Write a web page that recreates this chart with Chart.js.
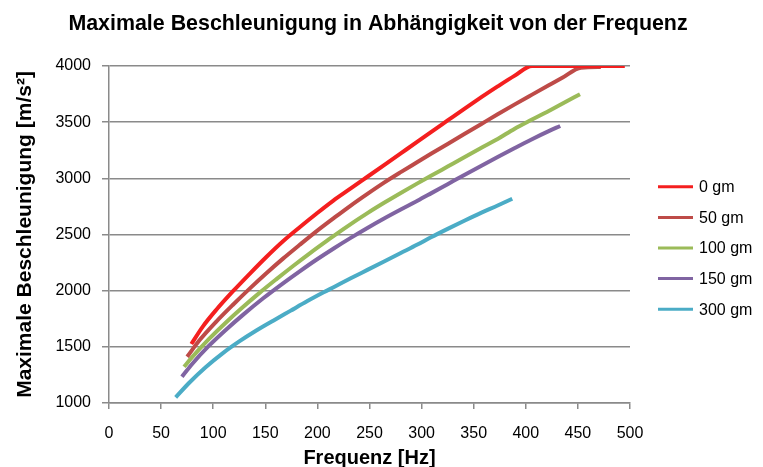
<!DOCTYPE html>
<html>
<head>
<meta charset="utf-8">
<script src="https://cdn.jsdelivr.net/npm/chart.js@4/dist/chart.umd.min.js"></script>
<style>
    html, body { margin: 0; padding: 0; background: #fff; }
    #wrap { width: 763px; height: 467px; }
</style>
</head>
<body>
<div id="wrap"><canvas id="accelChart" width="763" height="467"></canvas></div>
<script>
// values
const series_labels = ['0 gm', '50 gm', '100 gm', '150 gm', '300 gm'];
const series_colors = ['#F41F1F', '#BE4B48', '#9BBB59', '#8064A2', '#4BACC6'];

const freq_0   = [79, 90, 103, 119, 135, 151, 167, 183, 199, 215, 232, 248, 264, 280, 296, 309, 325, 341, 357, 373, 389, 406, 495];
const accel_0  = [1525, 1680, 1830, 1995, 2150, 2300, 2440, 2565, 2685, 2800, 2910, 3014, 3118, 3222, 3326, 3411, 3515, 3619, 3720, 3818, 3912, 4000, 4000];

const freq_50  = [75, 87, 103, 119, 135, 151, 167, 183, 199, 216, 232, 248, 264, 280, 296, 309, 325, 341, 357, 373, 389, 406, 422, 435, 453, 472];
const accel_50 = [1412, 1560, 1725, 1875, 2018, 2155, 2285, 2408, 2528, 2648, 2758, 2862, 2962, 3055, 3145, 3218, 3306, 3394, 3482, 3570, 3656, 3745, 3828, 3895, 3985, 3990];

const freq_100  = [72, 80, 96, 112, 128, 145, 161, 177, 193, 210, 226, 248, 264, 280, 296, 309, 325, 341, 357, 373, 389, 405, 422, 434, 452];
const accel_100 = [1323, 1410, 1570, 1715, 1850, 1985, 2105, 2222, 2335, 2450, 2555, 2690, 2782, 2870, 2955, 3022, 3105, 3188, 3270, 3350, 3440, 3519, 3600, 3660, 3748];

const freq_150  = [70, 80, 96, 112, 128, 148, 167, 183, 199, 216, 232, 248, 264, 280, 296, 309, 325, 341, 357, 373, 389, 405, 422, 433];
const accel_150 = [1234, 1350, 1510, 1650, 1780, 1932, 2065, 2172, 2275, 2378, 2470, 2558, 2642, 2722, 2800, 2866, 2948, 3030, 3110, 3190, 3268, 3344, 3420, 3466];

const freq_300  = [64, 77, 93, 109, 125, 141, 158, 174, 190, 206, 216, 232, 248, 264, 280, 296, 309, 325, 341, 357, 373, 387];
const accel_300 = [1050, 1180, 1320, 1442, 1548, 1643, 1735, 1820, 1905, 1985, 2033, 2110, 2185, 2260, 2335, 2410, 2475, 2550, 2622, 2692, 2758, 2818];

const x_ticks = { min: 0, max: 500, step: 50 };
const y_ticks = { min: 1000, max: 4000, step: 500 };

const FONT = '"Liberation Sans", Arial, Helvetica, sans-serif';
const GRID = '#8a8a8a';

function toPoints(freq, accel){
    let pts = [];
    for(let i = 0; i < freq.length; i++){
        pts.push({ x: freq[i], y: accel[i] });
    }
    return pts;
}

// legend on the right, drawn in the space kept free by the empty right axis
const sideLegend = {
    id: 'sideLegend',
    afterDraw(chart){
        const ctx = chart.ctx;
        const area = chart.chartArea;
        const x0 = area.right + 28;
        const yMid = area.top + 182;
        const gap = 30.6;
        const n = chart.data.datasets.length;
        ctx.save();
        ctx.font = '16px ' + FONT;
        ctx.textBaseline = 'middle';
        ctx.textAlign = 'left';
        chart.data.datasets.forEach((ds, i) => {
            const y = yMid + (i - (n - 1) / 2) * gap;
            ctx.strokeStyle = ds.borderColor;
            ctx.lineWidth = 3;
            ctx.beginPath();
            ctx.moveTo(x0, y);
            ctx.lineTo(x0 + 35, y);
            ctx.stroke();
            ctx.fillStyle = '#000';
            ctx.fillText(ds.label, x0 + 41, y + 1);
        });
        ctx.restore();
    }
};

function dataChart(){
    const freqs = [freq_0, freq_50, freq_100, freq_150, freq_300];
    const accels = [accel_0, accel_50, accel_100, accel_150, accel_300];
    let datasets = [];
    for(let i = 0; i < series_labels.length; i++){
        datasets.push({
            label: series_labels[i],
            data: toPoints(freqs[i], accels[i]),
            borderColor: series_colors[i],
            backgroundColor: series_colors[i],
            borderWidth: 4,
            pointRadius: 0,
            cubicInterpolationMode: 'monotone',
            fill: false
        });
    }

    const config = {
        type: 'line',
        data: { datasets: datasets },
        plugins: [sideLegend],
        options: {
            responsive: false,
            animation: false,
            devicePixelRatio: 1,
            layout: { padding: { left: 0, right: 7, top: 0, bottom: 0 } },
            plugins: {
                legend: { display: false },
                tooltip: { enabled: false },
                title: {
                    display: true,
                    text: 'Maximale Beschleunigung in Abhängigkeit von der Frequenz',
                    color: '#000',
                    font: { family: FONT, size: 21.4, weight: 'bold', lineHeight: 1.2 },
                    padding: { top: 11, bottom: 29.3 }
                }
            },
            scales: {
                x: {
                    type: 'linear',
                    min: x_ticks.min,
                    max: x_ticks.max,
                    afterFit: (scale) => { scale.height = 64; },
                    ticks: {
                        stepSize: x_ticks.step,
                        color: '#000',
                        padding: 15,
                        font: { family: FONT, size: 16 },
                        callback: (v) => String(v)
                    },
                    grid: { drawOnChartArea: false, tickLength: 6, color: GRID, lineWidth: 1.5 },
                    border: { color: GRID, width: 1.5 },
                    title: {
                        display: true,
                        text: 'Frequenz [Hz]',
                        color: '#000',
                        padding: { top: 0, bottom: -1 },
                        font: { family: FONT, size: 20, weight: 'bold', lineHeight: 1 }
                    }
                },
                y: {
                    min: y_ticks.min,
                    max: y_ticks.max,
                    afterFit: (scale) => { scale.width = 109; },
                    ticks: {
                        stepSize: y_ticks.step,
                        color: '#000',
                        padding: 11,
                        font: { family: FONT, size: 16 },
                        callback: (v) => String(v)
                    },
                    grid: { tickLength: 7, color: GRID, lineWidth: 1.5 },
                    border: { color: GRID, width: 1.5 },
                    title: {
                        display: true,
                        text: 'Maximale Beschleunigung [m/s²]',
                        color: '#000',
                        padding: { top: 13, bottom: 0 },
                        font: { family: FONT, size: 21, weight: 'bold', lineHeight: 1.2 }
                    }
                },
                // empty axis that only keeps room for the legend
                yLegend: {
                    position: 'right',
                    display: true,
                    afterFit: (scale) => { scale.width = 126; },
                    ticks: { display: false },
                    grid: { display: false },
                    border: { display: false }
                }
            }
        }
    };
    return config;
}

new Chart(document.getElementById('accelChart'), dataChart());
</script>
</body>
</html>
